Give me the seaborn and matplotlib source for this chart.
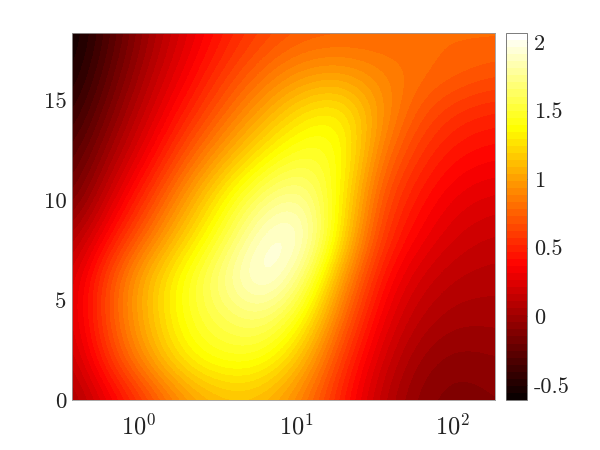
import numpy as np
import pandas as pd
import seaborn as sns
import matplotlib
matplotlib.use("Agg")
import matplotlib.pyplot as plt
from matplotlib.colors import BoundaryNorm
from matplotlib.cm import ScalarMappable

log_x = [-0.427, -0.182, 0.063, 0.308, 0.553, 0.798, 1.043, 1.288, 1.533, 1.778, 2.023, 2.268]
y_vals = [0.0, 2.04, 4.08, 6.12, 8.16, 10.19, 12.23, 14.27, 16.31, 18.35]

row_00 = [0.00, 0.30, 0.62, 0.95, 1.10, 1.08, 0.85, 0.48, 0.12, -0.08, -0.14, -0.10]
row_02 = [0.12, 0.60, 1.00, 1.34, 1.46, 1.42, 1.12, 0.60, 0.22, -0.01, -0.08, -0.05]
row_04 = [0.20, 0.72, 1.12, 1.46, 1.62, 1.70, 1.40, 0.80, 0.33, 0.10, 0.02, 0.03]
row_06 = [0.18, 0.70, 1.12, 1.46, 1.78, 2.05, 1.72, 1.00, 0.45, 0.20, 0.10, 0.08]
row_08 = [0.02, 0.42, 0.82, 1.20, 1.55, 1.95, 2.00, 1.28, 0.60, 0.35, 0.20, 0.15]
row_10 = [-0.20, 0.20, 0.58, 0.98, 1.35, 1.68, 1.80, 1.36, 0.70, 0.45, 0.30, 0.25]
row_12 = [-0.32, 0.02, 0.35, 0.72, 1.03, 1.32, 1.52, 1.45, 0.85, 0.57, 0.42, 0.38]
row_14 = [-0.45, -0.12, 0.20, 0.50, 0.78, 1.04, 1.28, 1.38, 0.98, 0.70, 0.55, 0.50]
row_16 = [-0.55, -0.24, 0.08, 0.35, 0.60, 0.80, 0.95, 0.98, 0.90, 0.82, 0.76, 0.70]
row_18 = [-0.60, -0.32, 0.00, 0.25, 0.47, 0.63, 0.72, 0.74, 0.75, 0.77, 0.79, 0.80]
rows = [row_00, row_02, row_04, row_06, row_08, row_10, row_12, row_14, row_16, row_18]

x_ticks = [0, 1, 2]
x_labels = [r"$10^{0}$", r"$10^{1}$", r"$10^{2}$"]
y_ticks = [0, 5, 10, 15]
c_ticks = [-0.5, 0, 0.5, 1, 1.5, 2]
c_labels = ["-0.5", "0", "0.5", "1", "1.5", "2"]

sns.set_theme(style="white")
plt.rcParams["mathtext.fontset"] = "cm"
plt.rcParams["axes.unicode_minus"] = False
plt.rcParams["axes.formatter.use_mathtext"] = True

df = pd.DataFrame(rows, index=y_vals, columns=log_x)
xs = df.columns.to_numpy()
ys = df.index.to_numpy()
zz = df.to_numpy()
dx = xs[1] - xs[0]
dy = ys[1] - ys[0]

W, H = 600, 450
fig = plt.figure(figsize=(6, 4.5), dpi=100, facecolor="white")
ax = fig.add_axes([72 / W, 1 - 400 / H, 423 / W, 367 / H])
cax = fig.add_axes([506 / W, 1 - 400 / H, 21 / W, 367 / H])

cmap = sns.color_palette("hot", as_cmap=True)
levels = np.linspace(-0.61, 2.065, 53)
norm = BoundaryNorm(levels, cmap.N, clip=True)
ax.imshow(zz, origin="lower", aspect="auto", cmap=cmap, norm=norm,
          interpolation="bicubic", interpolation_stage="data",
          extent=[xs[0] - dx / 2, xs[-1] + dx / 2, ys[0] - dy / 2, ys[-1] + dy / 2])
ax.set_xlim(xs[0], xs[-1])
ax.set_ylim(0, 18.35)
ax.set_xticks(x_ticks, x_labels)
ax.set_yticks(y_ticks, [str(t) for t in y_ticks], fontfamily="cmr10")
ax.tick_params(axis="x", length=0, labelsize=17.5, pad=10, colors="#222222")
ax.tick_params(axis="y", length=0, labelsize=16.5, pad=4, colors="#222222")
for s in ax.spines.values():
    s.set_color("#999999")
    s.set_linewidth(0.6)

cb = fig.colorbar(ScalarMappable(norm=norm, cmap=cmap), cax=cax, spacing="proportional", drawedges=False)
cb.set_ticks(c_ticks)
cb.set_ticklabels(c_labels, fontfamily="cmr10", fontsize=16, color="#222222")
cb.ax.minorticks_off()
cb.ax.tick_params(axis="y", direction="in", length=2.5, width=0.6, color="#444444", pad=5)
cb.outline.set_edgecolor("#666666")
cb.outline.set_linewidth(0.6)

fig.savefig("out.png", dpi=100)
